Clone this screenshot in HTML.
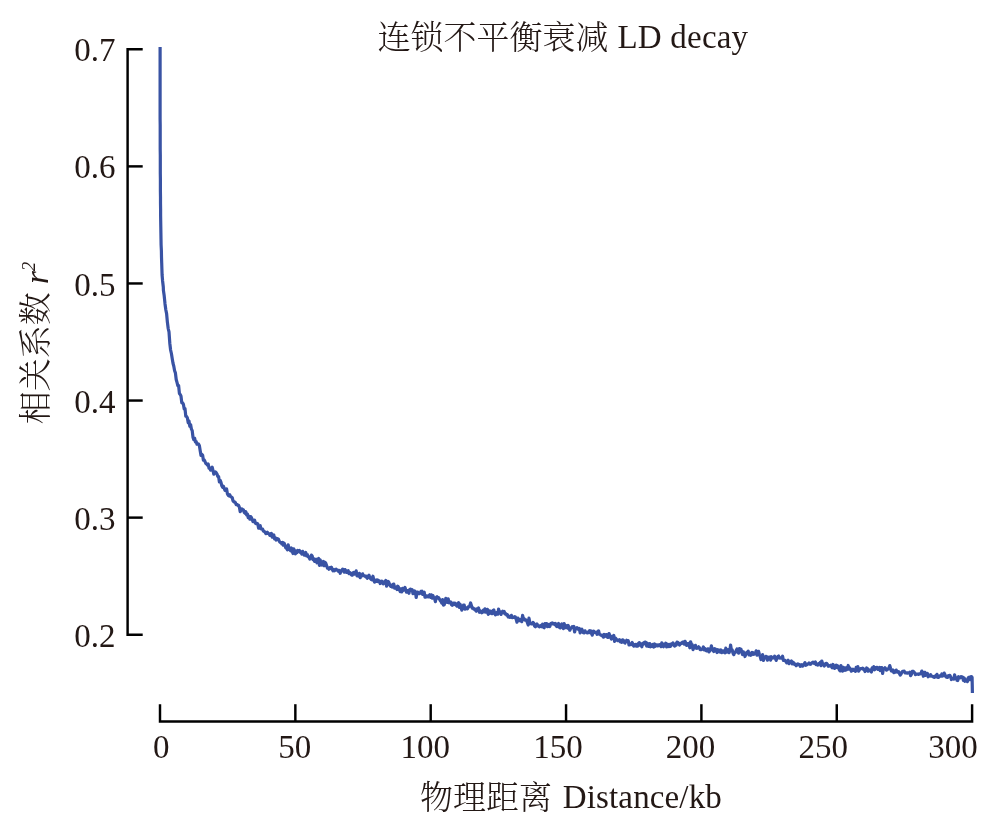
<!DOCTYPE html>
<html lang="zh"><head><meta charset="utf-8"><title>LD decay</title>
<style>html,body{margin:0;padding:0;background:#fff}svg{display:block}text{font-family:"Liberation Serif","Noto Serif CJK SC",serif;font-size:33px;fill:#231815}.c{font-weight:300}</style></head>
<body>
<svg width="992" height="834" viewBox="0 0 992 834">
<rect width="992" height="834" fill="#fff"/>
<g stroke="#000" stroke-width="2.45" fill="none">
<path d="M142.7 49.30 H127.6 V634.70 H142.7"/>
<path d="M127.6 166.38 H142.7"/>
<path d="M127.6 283.46 H142.7"/>
<path d="M127.6 400.54 H142.7"/>
<path d="M127.6 517.62 H142.7"/>
<path d="M160.00 704.2 V721.4 H972.10 V704.2"/>
<path d="M295.35 704.2 V721.4"/>
<path d="M430.70 704.2 V721.4"/>
<path d="M566.05 704.2 V721.4"/>
<path d="M701.40 704.2 V721.4"/>
<path d="M836.75 704.2 V721.4"/>
</g>
<text x="115.6" y="61.3" text-anchor="end">0.7</text>
<text x="115.6" y="178.4" text-anchor="end">0.6</text>
<text x="115.6" y="295.5" text-anchor="end">0.5</text>
<text x="115.6" y="412.5" text-anchor="end">0.4</text>
<text x="115.6" y="529.6" text-anchor="end">0.3</text>
<text x="115.6" y="646.7" text-anchor="end">0.2</text>
<text x="161.2" y="757.7" text-anchor="middle">0</text>
<text x="294.7" y="757.7" text-anchor="middle">50</text>
<text x="425.3" y="757.7" text-anchor="middle">100</text>
<text x="558.0" y="757.7" text-anchor="middle">150</text>
<text x="690.4" y="757.7" text-anchor="middle">200</text>
<text x="823.3" y="757.7" text-anchor="middle">250</text>
<text x="953.1" y="757.7" text-anchor="middle">300</text>
<text x="377.5" y="49.2" class="c">连锁不平衡衰减</text>
<text x="617.5" y="48" letter-spacing="0.2">LD decay</text>
<text x="420" y="809" class="c">物理距离</text>
<text x="562.8" y="808" letter-spacing="0.14">Distance/kb</text>
<text transform="translate(47.5 343) rotate(-90)" text-anchor="middle"><tspan class="c" dy="-1">相关系数</tspan><tspan dy="1"> </tspan><tspan font-style="italic">r</tspan><tspan font-style="italic" font-size="19px" dy="-13">2</tspan></text>
<path d="M160.1 47.0 L160.1 53.0 L160.1 59.0 L160.1 65.0 L160.1 71.0 L160.1 77.0 L160.1 83.0 L160.1 89.0 L160.1 95.0 L160.1 101.0 L160.1 107.0 L160.1 113.0 L160.1 119.0 L160.2 125.0 L160.2 131.0 L160.2 137.0 L160.2 143.0 L160.2 149.0 L160.3 155.0 L160.3 161.0 L160.3 167.0 L160.3 173.0 L160.4 179.0 L160.4 185.0 L160.4 191.0 L160.5 197.0 L160.5 203.0 L160.6 209.0 L160.6 215.0 L160.7 221.0 L160.8 227.0 L160.9 233.0 L161.0 239.0 L161.1 245.0 L161.4 251.0 L161.5 257.0 L161.7 263.0 L161.9 269.0 L162.1 275.0 L162.6 281.0 L163.3 287.0 L163.4 290.3 L164.2 295.8 L165.0 303.7 L165.8 309.7 L166.6 313.6 L167.4 322.3 L168.2 328.5 L169.0 331.9 L169.8 343.2 L170.6 350.0 L171.4 353.5 L172.2 358.4 L173.0 363.3 L173.8 366.2 L174.6 370.8 L175.4 372.9 L176.2 379.5 L177.0 382.4 L177.8 385.5 L178.6 385.5 L179.4 393.4 L180.2 394.4 L181.0 396.2 L181.8 402.9 L182.6 402.8 L183.4 404.2 L184.2 408.9 L185.0 408.7 L185.8 416.3 L186.6 416.6 L187.4 418.1 L188.2 422.8 L189.0 420.9 L189.8 426.3 L190.6 424.6 L191.4 429.0 L192.2 430.6 L193.0 437.2 L193.8 439.7 L194.6 438.2 L195.4 441.9 L196.2 441.6 L197.0 444.2 L197.8 443.9 L198.6 444.1 L199.4 445.8 L200.2 450.8 L201.0 455.4 L201.8 454.3 L202.6 455.1 L203.4 460.2 L204.2 459.9 L205.0 461.5 L205.8 463.5 L206.6 463.9 L207.4 465.1 L208.2 464.0 L209.0 468.2 L209.8 467.8 L210.6 470.2 L211.4 469.0 L212.2 467.1 L213.0 470.5 L213.8 474.1 L214.6 472.0 L215.4 471.9 L216.2 472.7 L217.0 474.1 L217.8 476.6 L218.6 476.6 L219.4 481.9 L220.2 480.4 L221.0 482.4 L221.8 485.8 L222.6 487.2 L223.4 486.2 L224.2 488.4 L225.0 490.3 L225.8 490.2 L226.6 488.9 L227.4 493.7 L228.2 495.3 L229.0 495.8 L229.8 494.8 L230.6 496.6 L231.4 497.0 L232.2 497.5 L233.0 500.8 L233.8 501.8 L234.6 501.9 L235.4 502.7 L236.2 504.7 L237.0 504.3 L237.8 505.3 L238.6 505.4 L239.4 507.3 L240.2 511.6 L241.0 510.3 L241.8 508.9 L242.6 509.5 L243.4 509.8 L244.2 512.4 L245.0 513.3 L245.8 511.6 L246.6 514.9 L247.4 513.9 L248.2 517.7 L249.0 516.1 L249.8 519.2 L250.6 516.6 L251.4 517.6 L252.2 519.4 L253.0 521.6 L253.8 521.6 L254.6 520.2 L255.4 523.1 L256.2 523.7 L257.0 523.4 L257.8 523.9 L258.6 528.1 L259.4 525.9 L260.2 525.7 L261.0 528.9 L261.8 529.0 L262.6 529.1 L263.4 531.1 L264.2 531.3 L265.0 532.1 L265.8 533.6 L266.6 533.4 L267.4 532.3 L268.2 533.5 L269.0 533.7 L269.8 535.3 L270.6 533.8 L271.4 533.4 L272.2 537.1 L273.0 535.8 L273.8 535.0 L274.6 539.0 L275.4 537.8 L276.2 540.1 L277.0 538.5 L277.8 538.7 L278.6 539.5 L279.4 541.5 L280.2 542.4 L281.0 542.5 L281.8 543.8 L282.6 542.4 L283.4 545.2 L284.2 543.2 L285.0 545.8 L285.8 547.9 L286.6 548.3 L287.4 549.8 L288.2 544.8 L289.0 549.2 L289.8 549.8 L290.6 550.8 L291.4 548.0 L292.2 551.0 L293.0 553.5 L293.8 548.8 L294.6 551.8 L295.4 553.8 L296.2 551.0 L297.0 552.6 L297.8 550.5 L298.6 551.1 L299.4 550.5 L300.2 552.3 L301.0 552.3 L301.8 554.0 L302.6 551.3 L303.4 553.1 L304.2 555.2 L305.0 555.0 L305.8 552.5 L306.6 555.9 L307.4 554.7 L308.2 556.8 L309.0 557.4 L309.8 559.0 L310.6 557.9 L311.4 555.1 L312.2 556.0 L313.0 559.6 L313.8 558.7 L314.6 561.4 L315.4 560.5 L316.2 559.3 L317.0 562.8 L317.8 560.1 L318.6 558.5 L319.4 565.4 L320.2 559.8 L321.0 564.1 L321.8 565.0 L322.6 564.2 L323.4 561.5 L324.2 565.8 L325.0 562.3 L325.8 563.3 L326.6 565.5 L327.4 568.1 L328.2 567.8 L329.0 569.2 L329.8 567.6 L330.6 568.3 L331.4 567.2 L332.2 569.2 L333.0 570.8 L333.8 569.7 L334.6 570.8 L335.4 569.4 L336.2 569.2 L337.0 570.1 L337.8 570.0 L338.6 571.4 L339.4 570.4 L340.2 573.3 L341.0 570.5 L341.8 570.4 L342.6 569.2 L343.4 571.2 L344.2 572.0 L345.0 569.6 L345.8 571.0 L346.6 572.3 L347.4 571.0 L348.2 570.7 L349.0 573.7 L349.8 572.5 L350.6 573.3 L351.4 574.8 L352.2 575.2 L353.0 572.9 L353.8 572.4 L354.6 574.1 L355.4 573.7 L356.2 570.9 L357.0 575.8 L357.8 574.5 L358.6 576.0 L359.4 573.4 L360.2 577.7 L361.0 574.9 L361.8 575.8 L362.6 573.8 L363.4 575.6 L364.2 575.5 L365.0 576.1 L365.8 576.9 L366.6 576.3 L367.4 578.3 L368.2 576.1 L369.0 575.2 L369.8 577.3 L370.6 578.8 L371.4 579.7 L372.2 579.8 L373.0 576.2 L373.8 580.1 L374.6 582.1 L375.4 580.7 L376.2 580.0 L377.0 581.3 L377.8 580.0 L378.6 581.7 L379.4 580.9 L380.2 583.5 L381.0 582.5 L381.8 581.1 L382.6 583.3 L383.4 583.9 L384.2 581.9 L385.0 582.8 L385.8 580.5 L386.6 586.2 L387.4 584.3 L388.2 581.5 L389.0 582.7 L389.8 584.9 L390.6 586.3 L391.4 585.5 L392.2 587.0 L393.0 584.3 L393.8 584.1 L394.6 588.1 L395.4 587.6 L396.2 587.1 L397.0 589.5 L397.8 586.2 L398.6 587.4 L399.4 589.9 L400.2 591.5 L401.0 589.0 L401.8 591.9 L402.6 588.3 L403.4 590.3 L404.2 589.3 L405.0 587.5 L405.8 590.5 L406.6 592.2 L407.4 590.6 L408.2 590.9 L409.0 593.3 L409.8 589.3 L410.6 589.2 L411.4 590.4 L412.2 589.7 L413.0 593.6 L413.8 592.7 L414.6 591.0 L415.4 591.8 L416.2 597.4 L417.0 592.2 L417.8 592.1 L418.6 593.4 L419.4 593.7 L420.2 593.2 L421.0 591.4 L421.8 591.2 L422.6 594.4 L423.4 593.9 L424.2 592.1 L425.0 597.2 L425.8 597.1 L426.6 595.8 L427.4 596.0 L428.2 596.8 L429.0 595.8 L429.8 594.7 L430.6 597.3 L431.4 594.8 L432.2 598.2 L433.0 595.6 L433.8 598.2 L434.6 598.6 L435.4 601.7 L436.2 597.5 L437.0 596.8 L437.8 598.0 L438.6 597.7 L439.4 599.0 L440.2 600.5 L441.0 601.3 L441.8 603.2 L442.6 599.5 L443.4 605.1 L444.2 604.7 L445.0 601.8 L445.8 598.3 L446.6 602.2 L447.4 602.4 L448.2 598.8 L449.0 602.8 L449.8 602.6 L450.6 601.9 L451.4 604.5 L452.2 605.2 L453.0 603.1 L453.8 604.6 L454.6 603.2 L455.4 603.3 L456.2 605.2 L457.0 606.1 L457.8 604.4 L458.6 602.6 L459.4 607.4 L460.2 604.3 L461.0 607.3 L461.8 610.1 L462.6 607.3 L463.4 605.2 L464.2 605.1 L465.0 609.1 L465.8 607.7 L466.6 608.3 L467.4 608.9 L468.2 606.9 L469.0 606.8 L469.8 605.8 L470.6 603.0 L471.4 605.4 L472.2 608.1 L473.0 607.8 L473.8 609.1 L474.6 608.8 L475.4 610.0 L476.2 611.2 L477.0 608.8 L477.8 610.2 L478.6 608.0 L479.4 612.3 L480.2 610.7 L481.0 611.8 L481.8 612.8 L482.6 612.1 L483.4 610.2 L484.2 611.9 L485.0 608.8 L485.8 612.2 L486.6 611.9 L487.4 609.3 L488.2 614.3 L489.0 610.9 L489.8 613.3 L490.6 611.2 L491.4 613.4 L492.2 613.7 L493.0 610.6 L493.8 610.0 L494.6 613.2 L495.4 614.8 L496.2 612.8 L497.0 612.5 L497.8 614.2 L498.6 609.0 L499.4 612.8 L500.2 611.8 L501.0 614.4 L501.8 612.1 L502.6 611.2 L503.4 612.6 L504.2 611.5 L505.0 613.9 L505.8 613.6 L506.6 615.0 L507.4 614.6 L508.2 617.1 L509.0 616.1 L509.8 617.4 L510.6 617.2 L511.4 615.3 L512.2 617.6 L513.0 617.4 L513.8 617.3 L514.6 616.6 L515.4 617.0 L516.2 619.4 L517.0 622.2 L517.8 618.1 L518.6 620.5 L519.4 619.2 L520.2 620.9 L521.0 620.7 L521.8 621.5 L522.6 615.4 L523.4 618.9 L524.2 618.7 L525.0 620.1 L525.8 619.9 L526.6 620.5 L527.4 622.7 L528.2 625.0 L529.0 618.2 L529.8 622.3 L530.6 623.6 L531.4 623.9 L532.2 623.9 L533.0 622.5 L533.8 623.2 L534.6 626.1 L535.4 626.8 L536.2 625.0 L537.0 624.0 L537.8 625.8 L538.6 625.6 L539.4 626.9 L540.2 626.5 L541.0 625.5 L541.8 626.7 L542.6 624.2 L543.4 627.1 L544.2 627.7 L545.0 623.5 L545.8 625.7 L546.6 623.6 L547.4 626.7 L548.2 626.5 L549.0 624.5 L549.8 626.5 L550.6 624.0 L551.4 623.2 L552.2 622.9 L553.0 623.9 L553.8 623.5 L554.6 624.4 L555.4 623.5 L556.2 626.1 L557.0 626.5 L557.8 624.7 L558.6 623.5 L559.4 627.3 L560.2 627.8 L561.0 625.7 L561.8 624.0 L562.6 626.9 L563.4 628.6 L564.2 623.6 L565.0 627.8 L565.8 626.5 L566.6 625.7 L567.4 628.0 L568.2 625.5 L569.0 628.5 L569.8 630.2 L570.6 628.6 L571.4 627.8 L572.2 626.6 L573.0 627.1 L573.8 626.5 L574.6 632.0 L575.4 629.0 L576.2 628.1 L577.0 627.6 L577.8 628.5 L578.6 629.7 L579.4 628.5 L580.2 633.0 L581.0 629.5 L581.8 629.2 L582.6 631.0 L583.4 632.7 L584.2 632.9 L585.0 630.8 L585.8 632.2 L586.6 632.3 L587.4 633.0 L588.2 632.8 L589.0 631.1 L589.8 630.6 L590.6 633.1 L591.4 631.1 L592.2 635.1 L593.0 633.2 L593.8 631.2 L594.6 632.5 L595.4 632.4 L596.2 632.6 L597.0 634.3 L597.8 631.4 L598.6 630.9 L599.4 634.3 L600.2 634.5 L601.0 635.2 L601.8 635.7 L602.6 635.1 L603.4 637.2 L604.2 634.5 L605.0 636.4 L605.8 634.8 L606.6 634.6 L607.4 637.3 L608.2 637.3 L609.0 633.5 L609.8 635.3 L610.6 637.4 L611.4 639.0 L612.2 636.5 L613.0 637.3 L613.8 635.5 L614.6 641.5 L615.4 638.1 L616.2 639.1 L617.0 639.6 L617.8 640.7 L618.6 640.7 L619.4 639.7 L620.2 641.8 L621.0 640.5 L621.8 642.4 L622.6 639.8 L623.4 640.4 L624.2 642.4 L625.0 643.1 L625.8 641.5 L626.6 640.3 L627.4 641.0 L628.2 640.6 L629.0 644.9 L629.8 643.9 L630.6 644.6 L631.4 643.7 L632.2 642.5 L633.0 645.2 L633.8 646.0 L634.6 645.0 L635.4 644.4 L636.2 646.2 L637.0 644.3 L637.8 646.0 L638.6 643.2 L639.4 642.6 L640.2 645.2 L641.0 644.6 L641.8 646.8 L642.6 643.4 L643.4 644.1 L644.2 642.6 L645.0 642.0 L645.8 642.4 L646.6 646.0 L647.4 643.2 L648.2 646.3 L649.0 646.4 L649.8 643.6 L650.6 646.8 L651.4 644.8 L652.2 646.2 L653.0 644.4 L653.8 647.0 L654.6 644.0 L655.4 646.3 L656.2 644.8 L657.0 644.9 L657.8 645.9 L658.6 645.0 L659.4 644.6 L660.2 645.7 L661.0 646.5 L661.8 642.8 L662.6 646.2 L663.4 646.7 L664.2 644.2 L665.0 645.8 L665.8 643.2 L666.6 647.0 L667.4 644.2 L668.2 644.7 L669.0 646.6 L669.8 644.5 L670.6 646.3 L671.4 643.9 L672.2 644.6 L673.0 643.0 L673.8 645.0 L674.6 646.1 L675.4 644.2 L676.2 645.0 L677.0 642.2 L677.8 642.3 L678.6 643.1 L679.4 645.0 L680.2 644.2 L681.0 643.2 L681.8 643.4 L682.6 642.1 L683.4 642.0 L684.2 644.2 L685.0 641.3 L685.8 643.0 L686.6 645.4 L687.4 643.7 L688.2 645.2 L689.0 643.4 L689.8 647.8 L690.6 641.9 L691.4 644.2 L692.2 644.7 L693.0 649.6 L693.8 647.8 L694.6 646.9 L695.4 645.3 L696.2 648.2 L697.0 648.3 L697.8 647.6 L698.6 646.8 L699.4 647.6 L700.2 649.7 L701.0 649.6 L701.8 649.4 L702.6 648.9 L703.4 646.9 L704.2 649.8 L705.0 648.5 L705.8 650.4 L706.6 650.9 L707.4 649.2 L708.2 648.8 L709.0 651.9 L709.8 650.6 L710.6 649.5 L711.4 645.8 L712.2 650.0 L713.0 650.5 L713.8 651.5 L714.6 648.7 L715.4 649.0 L716.2 650.1 L717.0 652.5 L717.8 649.7 L718.6 651.5 L719.4 650.2 L720.2 652.2 L721.0 649.9 L721.8 652.6 L722.6 651.1 L723.4 650.9 L724.2 652.4 L725.0 652.8 L725.8 648.2 L726.6 652.1 L727.4 651.6 L728.2 649.7 L729.0 652.7 L729.8 651.0 L730.6 645.0 L731.4 650.1 L732.2 649.8 L733.0 653.2 L733.8 654.6 L734.6 652.3 L735.4 652.4 L736.2 650.4 L737.0 648.9 L737.8 651.0 L738.6 653.2 L739.4 648.7 L740.2 651.0 L741.0 649.2 L741.8 652.4 L742.6 654.6 L743.4 651.9 L744.2 653.6 L745.0 656.5 L745.8 654.5 L746.6 652.6 L747.4 652.4 L748.2 651.1 L749.0 655.0 L749.8 652.9 L750.6 655.3 L751.4 654.9 L752.2 652.4 L753.0 652.8 L753.8 654.3 L754.6 653.7 L755.4 653.7 L756.2 650.8 L757.0 655.1 L757.8 653.1 L758.6 651.3 L759.4 654.5 L760.2 656.5 L761.0 659.5 L761.8 655.9 L762.6 654.6 L763.4 660.5 L764.2 658.0 L765.0 657.6 L765.8 656.3 L766.6 656.5 L767.4 660.2 L768.2 657.5 L769.0 657.1 L769.8 657.0 L770.6 660.1 L771.4 656.7 L772.2 658.1 L773.0 657.6 L773.8 657.8 L774.6 656.2 L775.4 658.4 L776.2 660.4 L777.0 657.5 L777.8 656.5 L778.6 656.0 L779.4 658.1 L780.2 657.6 L781.0 658.1 L781.8 658.2 L782.6 656.2 L783.4 660.5 L784.2 660.1 L785.0 660.3 L785.8 661.4 L786.6 662.8 L787.4 661.6 L788.2 660.3 L789.0 663.7 L789.8 661.7 L790.6 662.0 L791.4 661.0 L792.2 663.9 L793.0 662.3 L793.8 663.0 L794.6 664.4 L795.4 664.1 L796.2 665.7 L797.0 664.7 L797.8 663.9 L798.6 664.3 L799.4 664.5 L800.2 666.3 L801.0 665.4 L801.8 664.6 L802.6 666.2 L803.4 665.0 L804.2 664.0 L805.0 662.6 L805.8 665.3 L806.6 664.9 L807.4 664.3 L808.2 663.9 L809.0 663.0 L809.8 664.1 L810.6 664.3 L811.4 663.3 L812.2 662.6 L813.0 662.1 L813.8 663.3 L814.6 663.6 L815.4 662.0 L816.2 664.7 L817.0 664.6 L817.8 665.0 L818.6 663.6 L819.4 663.9 L820.2 662.4 L821.0 665.7 L821.8 661.0 L822.6 663.6 L823.4 664.0 L824.2 666.0 L825.0 665.0 L825.8 663.6 L826.6 663.3 L827.4 664.2 L828.2 666.3 L829.0 666.1 L829.8 665.8 L830.6 665.3 L831.4 666.6 L832.2 667.7 L833.0 664.5 L833.8 666.2 L834.6 668.4 L835.4 666.5 L836.2 665.2 L837.0 667.6 L837.8 666.0 L838.6 667.3 L839.4 670.1 L840.2 670.9 L841.0 665.5 L841.8 669.1 L842.6 671.1 L843.4 667.3 L844.2 668.8 L845.0 670.4 L845.8 667.8 L846.6 669.8 L847.4 668.9 L848.2 665.5 L849.0 669.1 L849.8 667.9 L850.6 669.6 L851.4 671.2 L852.2 670.0 L853.0 669.1 L853.8 670.4 L854.6 669.7 L855.4 671.4 L856.2 667.3 L857.0 667.6 L857.8 666.6 L858.6 671.1 L859.4 669.8 L860.2 668.8 L861.0 668.6 L861.8 668.6 L862.6 668.2 L863.4 669.5 L864.2 669.1 L865.0 671.6 L865.8 670.1 L866.6 668.0 L867.4 668.6 L868.2 671.2 L869.0 670.4 L869.8 670.0 L870.6 671.0 L871.4 672.0 L872.2 667.9 L873.0 668.3 L873.8 666.6 L874.6 669.8 L875.4 668.4 L876.2 667.5 L877.0 667.3 L877.8 669.4 L878.6 668.1 L879.4 667.5 L880.2 670.5 L881.0 667.5 L881.8 667.5 L882.6 673.5 L883.4 669.0 L884.2 668.7 L885.0 667.7 L885.8 668.7 L886.6 670.2 L887.4 669.4 L888.2 669.1 L889.0 667.8 L889.8 665.6 L890.6 668.4 L891.4 670.9 L892.2 671.1 L893.0 670.0 L893.8 672.6 L894.6 671.4 L895.4 672.1 L896.2 670.1 L897.0 671.5 L897.8 672.2 L898.6 671.7 L899.4 673.5 L900.2 675.0 L901.0 674.2 L901.8 672.3 L902.6 671.4 L903.4 671.3 L904.2 671.1 L905.0 672.8 L905.8 672.8 L906.6 672.8 L907.4 673.2 L908.2 673.0 L909.0 673.0 L909.8 672.1 L910.6 675.7 L911.4 674.4 L912.2 671.4 L913.0 671.2 L913.8 671.8 L914.6 672.7 L915.4 674.6 L916.2 674.2 L917.0 674.1 L917.8 674.0 L918.6 674.4 L919.4 673.9 L920.2 673.9 L921.0 673.5 L921.8 671.1 L922.6 673.3 L923.4 676.2 L924.2 672.4 L925.0 672.3 L925.8 675.3 L926.6 673.8 L927.4 673.4 L928.2 676.8 L929.0 675.8 L929.8 676.0 L930.6 674.6 L931.4 676.2 L932.2 676.1 L933.0 676.5 L933.8 677.2 L934.6 677.3 L935.4 675.9 L936.2 676.9 L937.0 674.3 L937.8 677.3 L938.6 677.4 L939.4 676.1 L940.2 675.6 L941.0 676.1 L941.8 674.0 L942.6 676.0 L943.4 675.3 L944.2 673.1 L945.0 674.8 L945.8 676.7 L946.6 677.3 L947.4 677.5 L948.2 675.7 L949.0 675.5 L949.8 675.3 L950.6 676.8 L951.4 679.5 L952.2 678.4 L953.0 679.0 L953.8 679.1 L954.6 674.9 L955.4 677.9 L956.2 677.6 L957.0 680.2 L957.8 680.5 L958.6 676.7 L959.4 677.3 L960.2 677.9 L961.0 676.7 L961.8 676.8 L962.6 677.0 L963.4 680.3 L964.2 677.9 L965.0 681.3 L965.8 679.7 L966.6 680.7 L967.4 681.5 L968.2 677.9 L969.0 677.3 L969.8 679.7 L970.6 676.7 L971.4 676.5 L972.1 677.5 L972.4 693.0" fill="none" stroke="#3953A4" stroke-width="3.2" stroke-linejoin="round" stroke-linecap="butt"/>
</svg>
</body></html>
